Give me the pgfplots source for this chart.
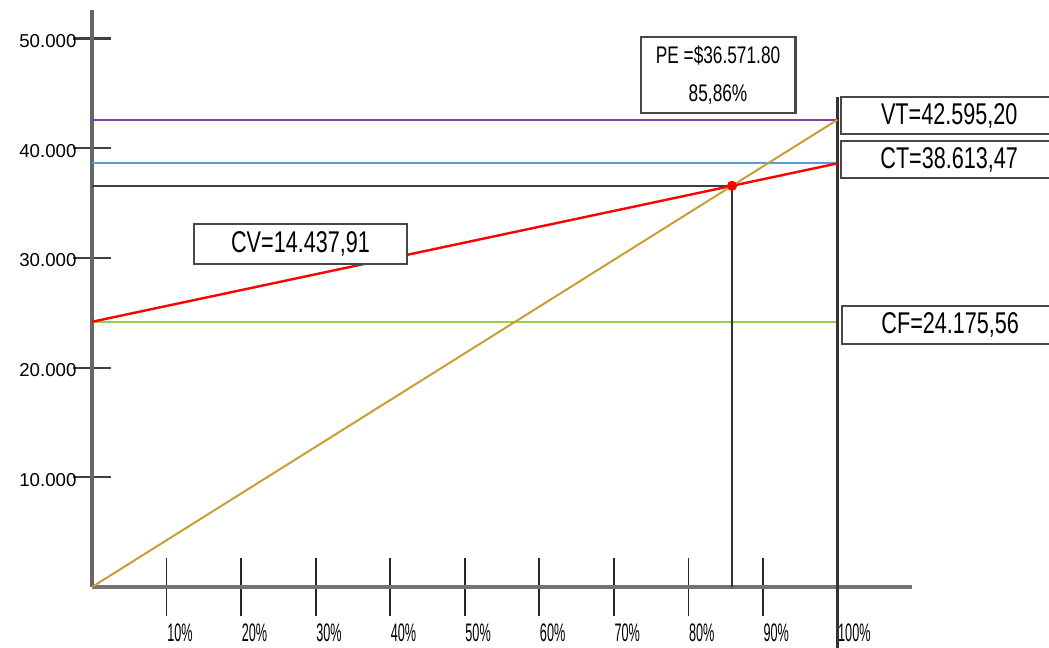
\documentclass[border=0pt]{standalone}
\usepackage{pgfplots}
\pgfplotsset{compat=1.18}
\usepackage{fontspec}
\setmainfont{Liberation Sans}
\newfontfamily\boxfont[FakeStretch=0.72]{Liberation Sans}
\newfontfamily\xfont[FakeStretch=0.5]{Liberation Sans}
\definecolor{cpurple}{HTML}{7B3FB0}
\definecolor{cblue}{HTML}{5B9BD5}
\definecolor{cgreen}{HTML}{92D050}
\definecolor{cgold}{HTML}{C8A032}
\definecolor{cred}{HTML}{FF0000}
\begin{document}
\begin{tikzpicture}[x=1pt,y=1pt]
\path[use as bounding box] (0,0) rectangle (786.75,486);
\begin{axis}[
  at={(69pt,45.75pt)}, anchor=south west,
  scale only axis, width=615pt, height=432.75pt,
  xmin=0, xmax=110, ymin=0, ymax=52600,
  axis x line=bottom, axis y line=left,
  axis line style={draw=none},
  xtick={10,20,30,40,50,60,70,80,90,100},
  xticklabels={10\%,20\%,30\%,40\%,50\%,60\%,70\%,80\%,90\%,100\%},
  ytick={10000,20000,30000,40000,50000},
  yticklabels={10.000,20.000,30.000,40.000,50.000},
  tick align=center,
  xtick style={black!85, line width=1.3pt, /pgfplots/major tick length=43pt},
  ytick style={black!75, line width=1.6pt, /pgfplots/major tick length=28pt},
  xticklabel style={anchor=north west, xshift=-3pt, yshift=-22pt, font=\xfont\fontsize{19}{20}\selectfont},
  yticklabel style={anchor=east, xshift=-6pt, yshift=-2pt, font=\fontsize{14}{16}\selectfont},
  clip=false,
  every axis plot/.append style={mark=none},
]
% axis lines
\draw[black!55, line width=2.4pt] (axis cs:0,0) -- (axis cs:110,0);
\draw[black!60, line width=2.6pt] (axis cs:0,0) -- (axis cs:0,52600);
% horizontal reference lines
\addplot[cgreen, line width=1.4pt] coordinates {(0,24175.56) (100,24175.56)};
\addplot[cpurple, line width=1.6pt] coordinates {(0,42595.20) (100,42595.20)};
\addplot[cblue, line width=1.6pt] coordinates {(0,38613.47) (100,38613.47)};
\addplot[black!75, line width=1.6pt] coordinates {(0,36571.80) (85.86,36571.80)};
% vertical lines
\addplot[black!80, line width=1.4pt] coordinates {(85.86,0) (85.86,36571.80)};
\addplot[black!80, line width=1.7pt] coordinates {(100,-5600) (100,44700)};
% cost and revenue lines
\addplot[cred, line width=1.8pt] coordinates {(0,24175.56) (100,38613.47)};
\addplot[cgold, line width=1.5pt] coordinates {(0,0) (100,42595.20)};
% break-even point
\addplot[only marks, mark=*, mark size=3.6pt, cred] coordinates {(85.86,36571.80)};
% annotation boxes
\tikzset{lbl/.style={draw=black!72, line width=1.8pt, fill=white, inner sep=0pt,
  font=\boxfont\fontsize{22.5}{24}\selectfont}}
\node[lbl, minimum width=116pt, minimum height=57pt, align=center,
  font=\boxfont\fontsize{18}{29}\selectfont] at (axis cs:83.98,46674) {PE =\$36.571.80\\85,86\%};
\node[lbl, anchor=west, minimum width=162pt, minimum height=27.75pt] at (axis cs:100.34,42982) {VT=42.595,20};
\node[lbl, anchor=west, minimum width=162pt, minimum height=27.75pt] at (axis cs:100.34,38971) {CT=38.613,47};
\node[lbl, anchor=west, minimum width=162pt, minimum height=28.5pt] at (axis cs:100.48,23884) {CF=24.175,56};
\node[lbl, minimum width=160pt, minimum height=30pt] at (axis cs:27.97,31268) {CV=14.437,91};
\end{axis}
\end{tikzpicture}
\end{document}
